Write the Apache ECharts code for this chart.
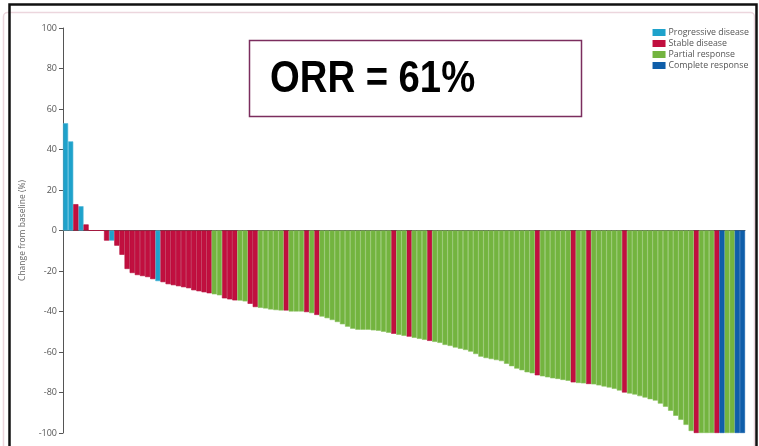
<!DOCTYPE html>
<html>
<head>
<meta charset="utf-8">
<script src="https://cdn.jsdelivr.net/npm/echarts@6/dist/echarts.min.js"></script>
<style>
  html, body { margin: 0; padding: 0; background: #ffffff; }
  #chart { width: 759px; height: 446px; }
</style>
</head>
<body>
<div id="chart"></div>
<script>
// Best percentage change in tumour size from baseline, one bar per patient
const changes = [
  53, 44, 13, 12, 3, 0, 0, 0, -5, -5,
  -7.5, -12, -19, -21, -22, -22.5, -23, -24, -25, -25.5,
  -26.5, -27, -27.5, -28, -28.5, -29.5, -30, -30.5, -31, -31.5,
  -32, -33.5, -34, -34.5, -34.6, -35, -36.2, -37.8, -38.2, -38.5,
  -39, -39.3, -39.5, -39.5, -40, -40, -40, -40.3, -40.8, -41.7,
  -42.5, -43.3, -44.2, -45.2, -46.3, -47.5, -48.5, -49, -49, -49,
  -49.3, -49.5, -50, -50.5, -51, -51.5, -52, -52.4, -53, -53.5,
  -54, -54.5, -55, -55.5, -56.5, -57, -57.8, -58.4, -59, -59.8,
  -61, -62.3, -63, -63.5, -64, -64.5, -65.8, -67, -68.2, -69,
  -70, -70.5, -71.5, -72, -72.5, -73, -73.3, -73.8, -74.2, -75,
  -75.3, -75.5, -75.8, -76, -76.5, -77, -77.5, -78.2, -79, -80,
  -80.5, -81, -81.8, -82.5, -83.3, -84, -85.5, -87, -89, -91.5,
  -93.5, -96, -99, -100, -100, -100, -100, -100, -100, -100,
  -100, -100, -100
];

// Best overall response per patient (same order as changes)
const responses = [
  'PD', 'PD', 'SD', 'PD', 'SD', 'SD', 'SD', 'SD', 'SD', 'PD',
  'SD', 'SD', 'SD', 'SD', 'SD', 'SD', 'SD', 'SD', 'PD', 'SD',
  'SD', 'SD', 'SD', 'SD', 'SD', 'SD', 'SD', 'SD', 'SD', 'PR',
  'PR', 'SD', 'SD', 'SD', 'PR', 'PR', 'SD', 'SD', 'PR', 'PR',
  'PR', 'PR', 'PR', 'SD', 'PR', 'PR', 'PR', 'SD', 'PR', 'SD',
  'PR', 'PR', 'PR', 'PR', 'PR', 'PR', 'PR', 'PR', 'PR', 'PR',
  'PR', 'PR', 'PR', 'PR', 'SD', 'PR', 'PR', 'SD', 'PR', 'PR',
  'PR', 'SD', 'PR', 'PR', 'PR', 'PR', 'PR', 'PR', 'PR', 'PR',
  'PR', 'PR', 'PR', 'PR', 'PR', 'PR', 'PR', 'PR', 'PR', 'PR',
  'PR', 'PR', 'SD', 'PR', 'PR', 'PR', 'PR', 'PR', 'PR', 'SD',
  'PR', 'PR', 'SD', 'PR', 'PR', 'PR', 'PR', 'PR', 'PR', 'SD',
  'PR', 'PR', 'PR', 'PR', 'PR', 'PR', 'PR', 'PR', 'PR', 'PR',
  'PR', 'PR', 'PR', 'SD', 'PR', 'PR', 'PR', 'SD', 'CR', 'PR',
  'PR', 'CR', 'CR'
];

const responseCodes = ['PD', 'SD', 'PR', 'CR'];
const responseNames = ['Progressive disease', 'Stable disease', 'Partial response', 'Complete response'];
const responseColors = ['#1ea2cb', '#c10f3f', '#73b43f', '#0f5ea9'];
const responseSeams = ['#4fb6d6', '#b30d3a', '#86c05a', '#0f5ea9'];

const yTicks = [-100, -80, -60, -40, -20, 0, 20, 40, 60, 80, 100];
const orrText = 'ORR = 61%';

const patients = changes.map((_, i) => String(i + 1));

// One stacked series per response category so each gets its own colour and legend entry
const series = responseCodes.map((code, k) => ({
  name: responseNames[k],
  type: 'bar',
  stack: 'waterfall',
  barCategoryGap: '0%',
  itemStyle: { color: responseColors[k], borderColor: responseSeams[k], borderWidth: 0.6 },
  data: changes.map((v, i) => (responses[i] === code ? v : '-')),
  animation: false
}));

const chart = echarts.init(document.getElementById('chart'), null, { renderer: 'canvas' });

chart.setOption({
  backgroundColor: '#ffffff',
  animation: false,
  textStyle: { fontFamily: 'Open Sans' },
  grid: { left: 63, right: 14, top: 28, bottom: 13, containLabel: false },
  legend: {
    orient: 'vertical',
    right: 5,
    top: 23,
    itemWidth: 13,
    itemHeight: 7,
    itemGap: 2,
    icon: 'rect',
    selectedMode: false,
    itemStyle: { borderWidth: 0 },
    textStyle: { fontSize: 8.8, color: '#555', padding: [0, 0, 0, -2] },
    data: responseNames
  },
  xAxis: {
    type: 'category',
    data: patients,
    axisLine: { onZero: true, lineStyle: { color: '#555', width: 1 } },
    axisTick: { show: false },
    axisLabel: { show: false },
    splitLine: { show: false }
  },
  yAxis: {
    type: 'value',
    min: yTicks[0],
    max: yTicks[yTicks.length - 1],
    interval: 20,
    name: 'Change from baseline (%)',
    nameLocation: 'middle',
    nameGap: 36,
    nameTextStyle: { fontSize: 8.5, color: '#666' },
    axisLine: { show: true, lineStyle: { color: '#555', width: 1 } },
    axisTick: { show: true, length: 4, lineStyle: { color: '#555' } },
    axisLabel: { fontSize: 9, color: '#555', margin: 6 },
    splitLine: { show: false }
  },
  graphic: [
    {
      type: 'rect',
      silent: true,
      shape: { x: 3.5, y: 12.5, width: 751, height: 440, r: 4 },
      style: { fill: 'none', stroke: '#ecd6dd', lineWidth: 1.5 }
    },
    {
      type: 'rect',
      silent: true,
      shape: { x: 9.5, y: 4.5, width: 747, height: 450 },
      style: { fill: 'none', stroke: '#111', lineWidth: 2.5 }
    },
    {
      type: 'rect',
      silent: true,
      shape: { x: 249.5, y: 40.5, width: 332, height: 76 },
      style: { fill: '#ffffff', stroke: '#7b2d5e', lineWidth: 1.5 }
    },
    {
      type: 'text',
      silent: true,
      x: 270,
      y: 80,
      scaleX: 0.85,
      style: {
        text: orrText,
        fill: '#000',
        font: 'bold 45px "Liberation Sans", Arial, sans-serif',
        textAlign: 'left',
        textVerticalAlign: 'middle'
      }
    }
  ],
  series: series
});
</script>
</body>
</html>
